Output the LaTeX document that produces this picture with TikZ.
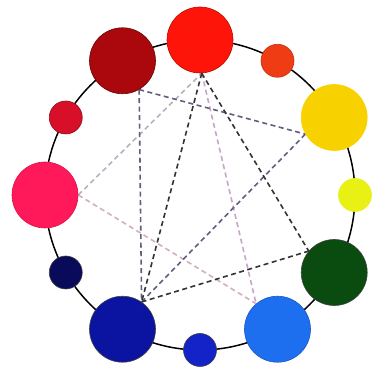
\documentclass[tikz,border=0pt]{standalone}
\begin{document}
\begin{tikzpicture}[x=1pt,y=1pt,
  big/.style={circle,minimum size=66pt,inner sep=0pt,draw=black!75,line width=0.6pt},
  small/.style={circle,minimum size=33pt,inner sep=0pt,draw=black!75,line width=0.6pt},
  dl/.style={dash pattern=on 5pt off 3.5pt,line width=1.6pt},
  blk/.style={dl,draw=black!80},
  slate/.style={dl,draw={rgb,255:red,95;green,95;blue,125}},
  mauve/.style={dl,draw={rgb,255:red,200;green,165;blue,200}},
  lpink/.style={dl,draw={rgb,255:red,210;green,175;blue,185}},
  lgray/.style={dl,draw={rgb,255:red,185;green,175;blue,190}}]
\definecolor{cRed}{RGB}{255,20,10}
\definecolor{cOrange}{RGB}{240,60,20}
\definecolor{cYellow}{RGB}{248,210,0}
\definecolor{cYG}{RGB}{232,240,20}
\definecolor{cGreen}{RGB}{10,75,15}
\definecolor{cLBlue}{RGB}{30,110,240}
\definecolor{cSBlue}{RGB}{20,35,200}
\definecolor{cDBlue}{RGB}{10,20,160}
\definecolor{cNavy}{RGB}{10,10,90}
\definecolor{cPink}{RGB}{255,25,90}
\definecolor{cCrimson}{RGB}{215,15,40}
\definecolor{cDRed}{RGB}{170,8,12}
\useasboundingbox (0,0) rectangle (381,367);
\coordinate (C) at (200,172);
\draw[line width=1.5pt] (C) circle (155);
% node positions
\path (C) ++(90:155) coordinate (pRed)
      (C) ++(60:155) coordinate (pOrange)
      (C) ++(30:155) coordinate (pYellow)
      (C) ++(0:155) coordinate (pYG)
      (C) ++(-30:155) coordinate (pGreen)
      (C) ++(-60:155) coordinate (pLBlue)
      (C) ++(-90:155) coordinate (pSBlue)
      (C) ++(-120:155) coordinate (pDBlue)
      (C) ++(-150:155) coordinate (pNavy)
      (C) ++(180:155) coordinate (pPink)
      (C) ++(150:155) coordinate (pCrimson)
      (C) ++(120:155) coordinate (pDRed);
% invisible placeholders for anchors
\node[big,draw=none] (red) at (pRed) {};
\node[big,draw=none] (yellow) at (pYellow) {};
\node[big,draw=none] (green) at (pGreen) {};
\node[big,draw=none] (lblue) at (pLBlue) {};
\node[big,draw=none] (dblue) at (pDBlue) {};
\node[big,draw=none] (pink) at (pPink) {};
\node[big,draw=none] (dred) at (pDRed) {};
% dashed lines
\draw[lgray] (pink.east) -- (red.-87);
\draw[lpink] (pink.east) -- (lblue.130);
\draw[mauve] (red.-87) -- (lblue.130);
\draw[slate] (dred.-60) -- (dblue.55);
\draw[slate] (dred.-60) -- (yellow.-150);
\draw[slate] (dblue.55) -- (yellow.-150);
\draw[blk] (red.-87) -- (dblue.55);
\draw[blk] (red.-87) -- (green.140);
\draw[blk] (dblue.55) -- (green.140);
% circles
\node[big,fill=cRed,draw=cRed!70!black] (cred) at (pRed) {};
\node[small,fill=cOrange,draw=cOrange!80!black] (corange) at (pOrange) {};
\node[big,fill=cYellow,draw=cYellow] (cyellow) at (pYellow) {};
\node[small,fill=cYG,draw=cYG] (cyg) at (pYG) {};
\node[big,fill=cGreen] (cgreen) at (pGreen) {};
\node[big,fill=cLBlue,draw=cLBlue!80!black] (clblue) at (pLBlue) {};
\node[small,fill=cSBlue] (csblue) at (pSBlue) {};
\node[big,fill=cDBlue] (cdblue) at (pDBlue) {};
\node[small,fill=cNavy] (cnavy) at (pNavy) {};
\node[big,fill=cPink,draw=cPink!85!black] (cpink) at (pPink) {};
\node[small,fill=cCrimson,draw=cCrimson!70!black] (ccrimson) at (pCrimson) {};
\node[big,fill=cDRed,draw=cDRed!60!black] (cdred) at (pDRed) {};
\end{tikzpicture}
\end{document}
